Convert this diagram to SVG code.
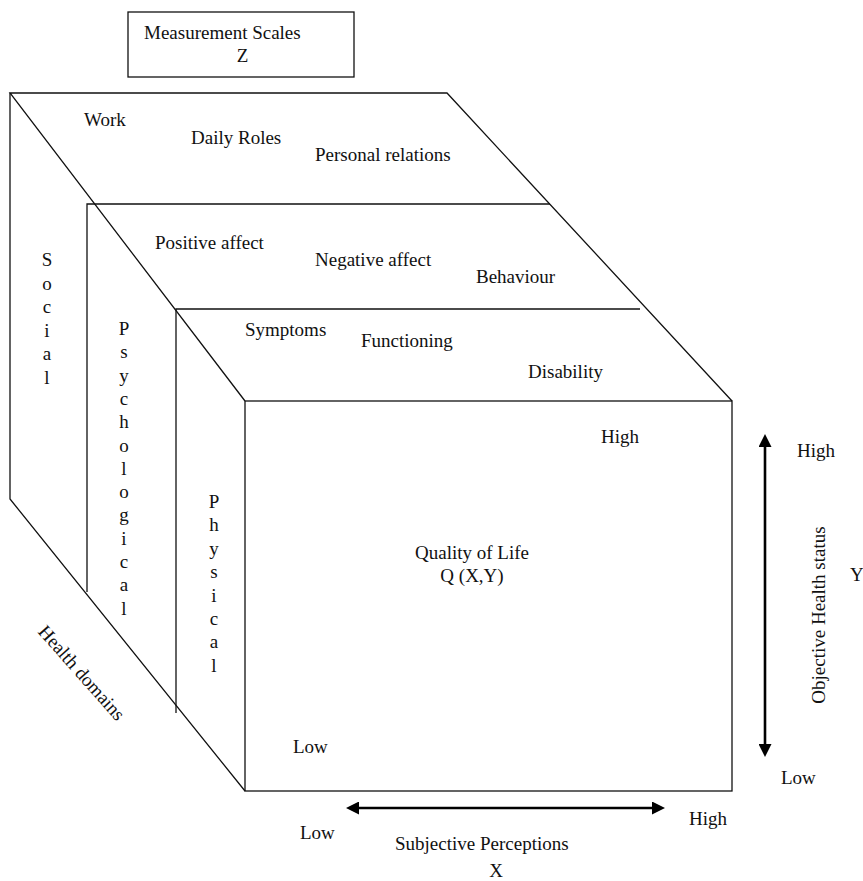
<svg xmlns="http://www.w3.org/2000/svg" width="863" height="881" viewBox="0 0 863 881">
<style>
text{font-family:"Liberation Serif","Times New Roman",serif;font-size:19px;fill:#111}
.ln{stroke:#111;stroke-width:1.3;fill:none}
.ax{stroke:#000;stroke-width:2.6;fill:none}
.mid{text-anchor:middle}
</style>
<defs>
<marker id="ah" markerUnits="userSpaceOnUse" markerWidth="14" markerHeight="13" refX="7" refY="6.5" orient="auto-start-reverse">
<path d="M0,0 L13,6.5 L0,13 z" fill="#000"/>
</marker>
</defs>
<rect width="863" height="881" fill="#fff"/>

<g id="measurement-scales">
<rect x="128" y="12" width="226" height="65" class="ln" stroke-width="1.5"/>
<text x="144" y="39">Measurement Scales</text>
<text x="242.5" y="62" class="mid">Z</text>
</g>

<g id="social">
<polyline points="245,401 10,93 447,93 732,401" class="ln"/>
<polyline points="10,93 10,499 245,791" class="ln"/>
<text x="84" y="126">Work</text>
<text x="191" y="144">Daily Roles</text>
<text x="315" y="161">Personal relations</text>
<text class="mid" y="266"><tspan x="47">S</tspan><tspan x="47" dy="23.5">o</tspan><tspan x="47" dy="23.5">c</tspan><tspan x="47" dy="23.5">i</tspan><tspan x="47" dy="23.5">a</tspan><tspan x="47" dy="23.5">l</tspan></text>
</g>

<g id="psychological">
<polyline points="550,204 87,204 87,592" class="ln"/>
<text x="155" y="249">Positive affect</text>
<text x="315" y="266">Negative affect</text>
<text x="476" y="283">Behaviour</text>
<text class="mid" y="335"><tspan x="124">P</tspan><tspan x="124" dy="23.3">s</tspan><tspan x="124" dy="23.3">y</tspan><tspan x="124" dy="23.3">c</tspan><tspan x="124" dy="23.3">h</tspan><tspan x="124" dy="23.3">o</tspan><tspan x="124" dy="23.3">l</tspan><tspan x="124" dy="23.3">o</tspan><tspan x="124" dy="23.3">g</tspan><tspan x="124" dy="23.3">i</tspan><tspan x="124" dy="23.3">c</tspan><tspan x="124" dy="23.3">a</tspan><tspan x="124" dy="23.3">l</tspan></text>
</g>

<g id="physical">
<polyline points="640,309 176,309 176,713" class="ln"/>
<text x="245" y="336">Symptoms</text>
<text x="361" y="347">Functioning</text>
<text x="528" y="378">Disability</text>
<text class="mid" y="508"><tspan x="214">P</tspan><tspan x="214" dy="23.4">h</tspan><tspan x="214" dy="23.4">y</tspan><tspan x="214" dy="23.4">s</tspan><tspan x="214" dy="23.4">i</tspan><tspan x="214" dy="23.4">c</tspan><tspan x="214" dy="23.4">a</tspan><tspan x="214" dy="23.4">l</tspan></text>
</g>

<g id="health-domains">
<text class="mid" transform="translate(77,677) rotate(48.5)">Health domains</text>
</g>

<g id="quality-of-life">
<rect x="245" y="401" width="487" height="390" class="ln"/>
<text x="601" y="443">High</text>
<text x="293" y="753">Low</text>
<text x="472" y="559" class="mid">Quality of Life</text>
<text x="472" y="582" class="mid">Q (X,Y)</text>
</g>

<g id="connectors">
<line x1="765" y1="440" x2="765" y2="751" class="ax" marker-start="url(#ah)" marker-end="url(#ah)"/>
<line x1="352" y1="808" x2="659" y2="808" class="ax" marker-start="url(#ah)" marker-end="url(#ah)"/>
</g>

<g id="y-axis-labels">
<text x="797" y="457">High</text>
<text x="781" y="784">Low</text>
<text class="mid" transform="translate(825,615) rotate(-90)">Objective Health status</text>
<text x="850" y="581">Y</text>
</g>

<g id="x-axis-labels">
<text x="300" y="839">Low</text>
<text x="689" y="825">High</text>
<text x="395" y="850">Subjective Perceptions</text>
<text x="496" y="877" class="mid">X</text>
</g>
</svg>
